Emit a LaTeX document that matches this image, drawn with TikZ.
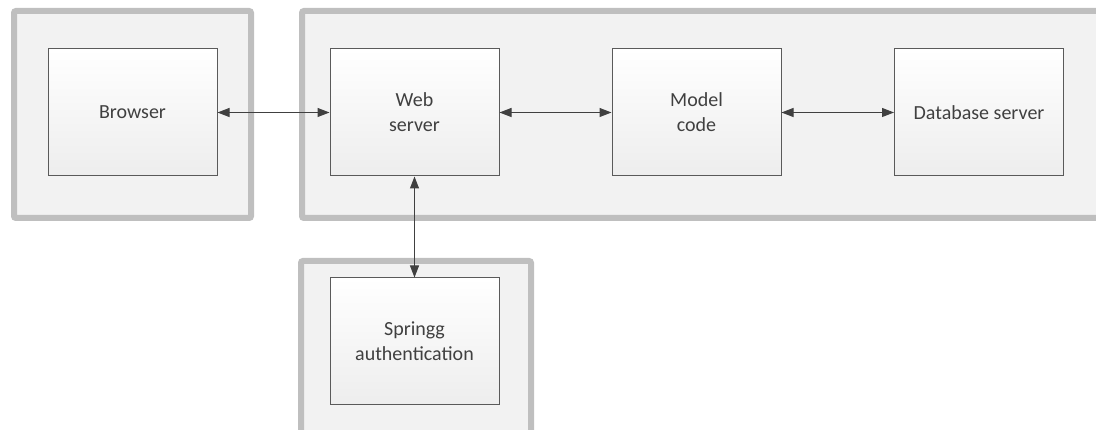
\documentclass[tikz,border=0pt]{standalone}
\usepackage{fontspec}
\setmainfont{Carlito}
\usetikzlibrary{arrows.meta, positioning}
\definecolor{zonefill}{HTML}{F2F2F2}
\definecolor{zoneline}{HTML}{BFBFBF}
\definecolor{boxline}{HTML}{5A5A5A}
\definecolor{inkgray}{HTML}{404040}

\tikzset{
  zone/.style={draw=zoneline, line width=6pt, fill=zonefill, rounded corners=2pt},
  block/.style={draw=boxline, line width=1pt, top color=white, bottom color=black!7,
    minimum width=169pt, minimum height=127pt, align=center, text=inkgray,
    font=\fontsize{20}{25}\selectfont},
  link/.style={{Triangle[length=12pt,width=9pt]}-{Triangle[length=12pt,width=9pt]}, draw=inkgray, fill=inkgray, line width=1pt}
}

\begin{document}
\begin{tikzpicture}[x=1pt, y=-1pt]
  \useasboundingbox (0,0) rectangle (1096,430);
  \clip (0,0) rectangle (1096,430);

  % grey zones behind the blocks
  \draw[zone] (14,11) rectangle (251,218);
  \draw[zone] (302,11) rectangle (1120,218);
  \draw[zone] (301,261) rectangle (531,460);

  \node[block] (browser) at (132.5,112.5) {Browser};
  \node[block] (web) at (414.5,112.5) {Web\\server};
  \node[block] (model) at (696.5,112.5) {Model\\code};
  \node[block] (db) at (979,112.5) {Database server};
  \node[block] (spring) at (414.5,341.5) {Springg\\authentication};

  \draw[link] (browser) -- (web);
  \draw[link] (web) -- (model);
  \draw[link] (model) -- (db);
  \draw[link] (web) -- (spring);
\end{tikzpicture}
\end{document}
